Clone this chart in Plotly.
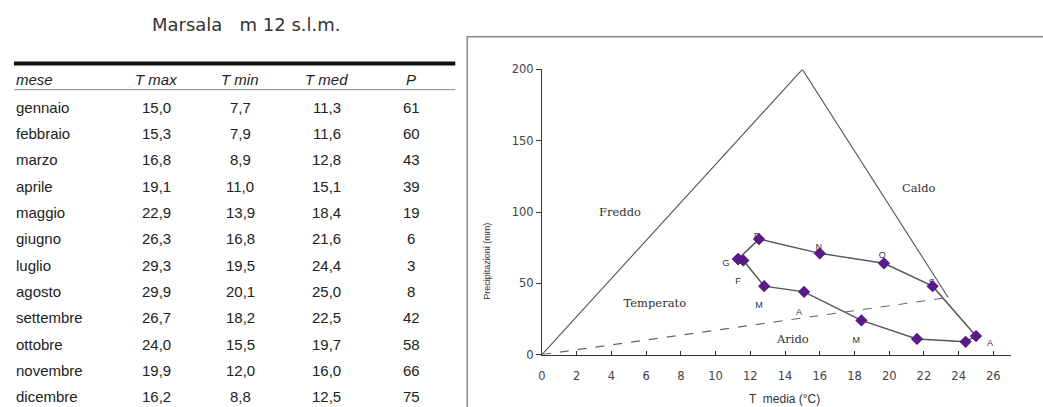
import plotly.graph_objects as go

# ---------------- data ----------------
mesi = ["gennaio", "febbraio", "marzo", "aprile", "maggio", "giugno",
        "luglio", "agosto", "settembre", "ottobre", "novembre", "dicembre"]
t_max = [15.0, 15.3, 16.8, 19.1, 22.9, 26.3, 29.3, 29.9, 26.7, 24.0, 19.9, 16.2]
t_min = [7.7, 7.9, 8.9, 11.0, 13.9, 16.8, 19.5, 20.1, 18.2, 15.5, 12.0, 8.8]
t_med = [11.3, 11.6, 12.8, 15.1, 18.4, 21.6, 24.4, 25.0, 22.5, 19.7, 16.0, 12.5]
p = [61, 60, 43, 39, 19, 6, 3, 8, 42, 58, 66, 75]

# precipitation as drawn in the climogram
p_grafico = [67, 66, 48, 44, 24, 11, 9, 13, 48, 64, 71, 81]

# month initials shown as data labels, and where they sit
etichette = ["G", "F", "M", "A", "M", "", "", "A", "S", "O", "N", "D"]
etich_x = [10.6, 11.3, 12.5, 14.8, 18.1, None, None, 25.8, 22.45, 19.6, 15.95, 12.4]
etich_y = [64, 51, 34, 29.6, 10, None, None, 7.7, 50.5, 69, 75, 83]

# Peguy triangle vertices
tri_t = [0, 15, 23.4]
tri_p = [0, 200, 40]

zone = ["Freddo", "Caldo", "Temperato", "Arido"]
zone_x = [4.5, 21.7, 6.5, 14.45]
zone_y = [99, 116, 35.5, 10.4]

intestazioni = ["mese", "T max", "T min", "T med", "P"]
titolo = "Marsala&nbsp;&nbsp;&nbsp;m 12 s.l.m."

x_ticks = list(range(0, 27, 2))
y_ticks = [0, 50, 100, 150, 200]

# ---------------- layout helpers ----------------
W, H = 1043, 407
V_OFF, V_SC = 4.0, 0.975   # vertical calibration of the rendered page


def px(x):
    return x / W


def py(y):
    return 1 - ((y - V_OFF) / V_SC) / H


fig = go.Figure()

# triangle: solid sides
fig.add_trace(go.Scatter(x=[tri_t[0], tri_t[1], tri_t[2]], y=[tri_p[0], tri_p[1], tri_p[2]],
                         mode="lines", line=dict(color="#555555", width=1.1),
                         hoverinfo="skip", showlegend=False, cliponaxis=False))
# triangle base dashed
fig.add_trace(go.Scatter(x=[tri_t[0], tri_t[2]], y=[tri_p[0], tri_p[2]],
                         mode="lines", line=dict(color="#666666", width=1.1, dash="dash"),
                         hoverinfo="skip", showlegend=False, cliponaxis=False))
# month labels
fig.add_trace(go.Scatter(x=etich_x, y=etich_y, mode="text", text=etichette,
                         textfont=dict(family="Liberation Sans", size=9, color="#333333"),
                         hoverinfo="skip", showlegend=False, cliponaxis=False))
# climogram loop (closed)
fig.add_trace(go.Scatter(x=t_med + [t_med[0]], y=p_grafico + [p_grafico[0]],
                         mode="lines+markers",
                         line=dict(color="#555566", width=1.5),
                         marker=dict(symbol="diamond", size=9, color="#5b1a8c",
                                     line=dict(color="#3e0f66", width=0.5)),
                         showlegend=False, cliponaxis=False))
# zone labels
fig.add_trace(go.Scatter(x=zone_x, y=zone_y, mode="text", text=zone,
                         textfont=dict(family="DejaVu Serif", size=11.5, color="#333333"),
                         hoverinfo="skip", showlegend=False, cliponaxis=False))

x_px0, x_scale = 540, 17.43
y_px0, y_px200 = 355, 67
x_rng = 27
fig.update_xaxes(domain=[px(x_px0), px(x_px0 + x_rng * x_scale)], range=[0, x_rng],
                 tickvals=x_ticks, ticks="inside", ticklen=4, tickcolor="#333333",
                 showline=True, linecolor="#333333", linewidth=1,
                 showgrid=False, zeroline=False, ticklabelstandoff=11,
                 tickfont=dict(family="DejaVu Sans", size=11.5, color="#444444"))
fig.update_yaxes(domain=[py(y_px0), py(y_px200)], range=[0, 200],
                 tickvals=y_ticks, ticks="outside", ticklen=5, tickcolor="#333333",
                 showline=True, linecolor="#333333", linewidth=1,
                 showgrid=False, zeroline=False,
                 tickfont=dict(family="DejaVu Sans", size=11.5, color="#444444"))

ann = []
shapes = []

# chart frame
shapes.append(dict(type="rect", xref="paper", yref="paper",
                   x0=px(465), x1=px(1050), y0=py(425), y1=py(34),
                   line=dict(color="#8a8a8a", width=1.5)))

# axis titles
ann.append(dict(xref="paper", yref="paper", x=px(484), y=py(261), text="Precipitazioni (mm)",
                textangle=-90, showarrow=False, xanchor="center", yanchor="middle",
                font=dict(family="Liberation Sans", size=9, color="#333333")))
ann.append(dict(xref="paper", yref="paper", x=px(784), y=py(400), text="T  media (°C)",
                showarrow=False, xanchor="center", yanchor="middle",
                font=dict(family="Liberation Sans", size=12, color="#333333")))

# table title
ann.append(dict(xref="paper", yref="paper", x=px(243), y=py(22), text=titolo, showarrow=False,
                xanchor="center", yanchor="middle",
                font=dict(family="DejaVu Sans", size=18, color="#333333")))

# table lines
shapes.append(dict(type="line", xref="paper", yref="paper", x0=px(10), x1=px(453),
                   y0=py(61), y1=py(61), line=dict(color="#111111", width=4)))
shapes.append(dict(type="line", xref="paper", yref="paper", x0=px(10), x1=px(453),
                   y0=py(87.5), y1=py(87.5), line=dict(color="#888888", width=1)))

col_x = [10, 153, 237, 324, 409]
head_y = 77
row_y0, row_dy = 105, 26.6
body_font = dict(family="Liberation Sans", size=15, color="#222222")
head_font = dict(family="Liberation Sans", size=15, color="#222222")

for j, h in enumerate(intestazioni):
    ann.append(dict(xref="paper", yref="paper", x=px(col_x[j]), y=py(head_y),
                    text="<i>" + h + "</i>", showarrow=False, yanchor="middle",
                    xanchor="left" if j == 0 else "center", font=head_font))


def fmt(v):
    return f"{v:.1f}".replace(".", ",")


for i, m in enumerate(mesi):
    yy = py(row_y0 + i * row_dy)
    vals = [m, fmt(t_max[i]), fmt(t_min[i]), fmt(t_med[i]), str(p[i])]
    for j, v in enumerate(vals):
        ann.append(dict(xref="paper", yref="paper", x=px(col_x[j]), y=yy, text=v,
                        showarrow=False, yanchor="middle",
                        xanchor="left" if j == 0 else "center",
                        font=body_font))

fig.update_layout(width=W, height=H, autosize=False,
                  margin=dict(l=0, r=0, t=0, b=0),
                  paper_bgcolor="white", plot_bgcolor="white",
                  annotations=ann, shapes=shapes, showlegend=False)

fig.write_html("out.html", config={"displayModeBar": False},
               post_script="document.documentElement.style.margin='0';"
                           "document.documentElement.style.overflow='hidden';"
                           "document.body.style.margin='0';document.body.style.padding='0';"
                           "document.body.style.overflow='hidden';")
